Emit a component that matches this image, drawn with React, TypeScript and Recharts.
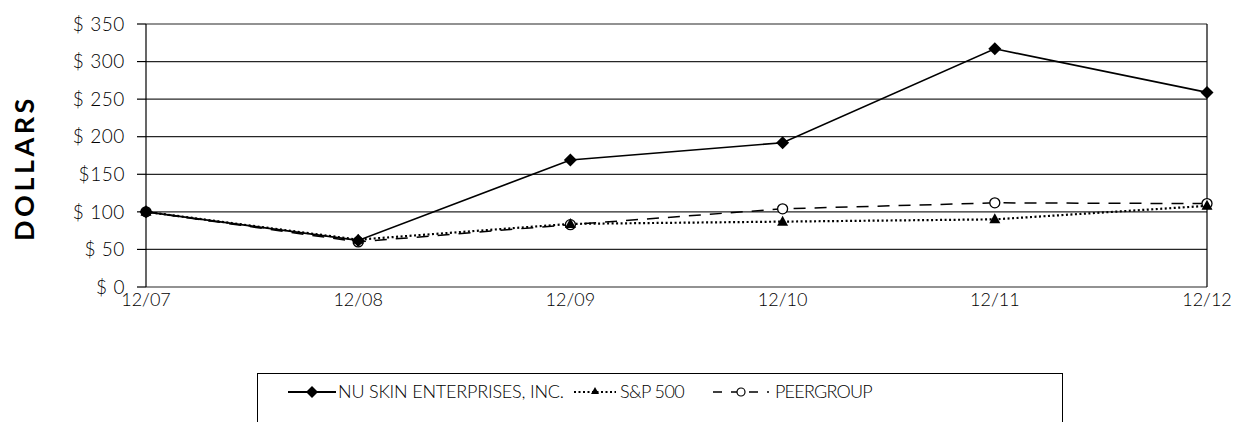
import React from 'react';
import { LineChart, Line, XAxis, YAxis, CartesianGrid, ReferenceLine } from 'recharts';

const YEARS = ['12/07', '12/08', '12/09', '12/10', '12/11', '12/12'];
const NU_SKIN = [100, 62, 169, 192, 317, 259];
const SP500 = [100, 63, 84, 87, 90, 108];
const PEER = [100, 60, 83, 104, 112, 111];
const Y_TICKS = [0, 50, 100, 150, 200, 250, 300, 350];
const Y_LABELS: Record<number, string> = {
  0: '$ 0', 50: '$ 50', 100: '$ 100', 150: '$150', 200: '$ 200', 250: '$ 250', 300: '$ 300', 350: '$ 350',
};
const SERIES_NAMES = ['NU SKIN ENTERPRISES, INC.', 'S&P 500', 'PEERGROUP'];

const FONT = 'Lato, "Open Sans", sans-serif';

const data = YEARS.map((y, i) => ({ year: y, nu: NU_SKIN[i], sp: SP500[i], peer: PEER[i] }));

const Diamond = (props: any) => {
  const { cx, cy } = props;
  if (cx == null || cy == null) return null;
  const r = 6.5;
  return <polygon points={`${cx},${cy - r} ${cx + r},${cy} ${cx},${cy + r} ${cx - r},${cy}`} fill="#000" />;
};

const Triangle = (props: any) => {
  const { cx, cy } = props;
  if (cx == null || cy == null) return null;
  return <polygon points={`${cx},${cy - 6} ${cx + 5.5},${cy + 4} ${cx - 5.5},${cy + 4}`} fill="#000" />;
};

const Circle = (props: any) => {
  const { cx, cy } = props;
  if (cx == null || cy == null) return null;
  return <circle cx={cx} cy={cy} r={5} fill="#fff" stroke="#000" strokeWidth={1.3} />;
};

// legend look: icon left, icon width, text left (relative to box)
const LEGEND_STYLE = [
  { dash: undefined, width: 2, marker: 'diamond', iconX: 30, iconW: 48, textX: 80, spacing: -0.2 },
  { dash: '2 2.5', width: 2, marker: 'triangle', iconX: 316, iconW: 42, textX: 362, spacing: -0.6 },
  { dash: '9 9', width: 1.5, marker: 'circle', iconX: 455, iconW: 56, textX: 517, spacing: -0.8 },
];

function LegendIcon({ dash, width, marker, iconW }: any) {
  const c = iconW / 2;
  return (
    <svg width={iconW} height={16} style={{ display: 'block' }}>
      <line x1={0} y1={8} x2={iconW} y2={8} stroke="#000" strokeWidth={width} strokeDasharray={dash} />
      {marker === 'diamond' && <polygon points={`${c},2 ${c + 6},8 ${c},14 ${c - 6},8`} fill="#000" />}
      {marker === 'triangle' && <polygon points={`${c},3 ${c + 4},10 ${c - 4},10`} fill="#000" />}
      {marker === 'circle' && <circle cx={c} cy={8} r={4} fill="#fff" stroke="#000" strokeWidth={1.2} />}
    </svg>
  );
}

export default function App() {
  return (
    <div style={{ position: 'absolute', left: 0, top: 0, width: 1234, height: 422, background: '#fff', overflow: 'hidden' }}>
      <div
        style={{
          position: 'absolute', left: 23, top: 168, transform: 'translate(-50%, -50%) rotate(-90deg)',
          fontFamily: FONT, fontWeight: 700, fontSize: 27, letterSpacing: 3.5, whiteSpace: 'nowrap',
        }}
      >
        DOLLARS
      </div>
      <LineChart width={1234} height={422} data={data} margin={{ top: 24, right: 27, left: 0, bottom: 95 }}>
        <CartesianGrid vertical={false} stroke="#000" strokeWidth={1.2} strokeOpacity={0.85} />
        <XAxis
          dataKey="year"
          axisLine={false}
          tickLine={false}
          tickMargin={0}
          interval={0}
          tick={{ fill: '#000', fontSize: 18, fontFamily: FONT, fontWeight: 300 }}
          height={40}
        />
        <YAxis
          width={146}
          domain={[0, 350]}
          ticks={Y_TICKS}
          tickFormatter={(v: number) => Y_LABELS[v]}
          axisLine={{ stroke: '#000', strokeWidth: 1.2 }}
          tickLine={{ stroke: '#000', strokeWidth: 1.2 }}
          tickSize={9}
          tickMargin={12}
          tick={{ fill: '#000', fontSize: 19, fontFamily: FONT, fontWeight: 300, letterSpacing: 0.6 }}
        />
        <ReferenceLine x={YEARS[YEARS.length - 1]} stroke="#000" strokeWidth={1.2} />
        <Line dataKey="peer" stroke="#000" strokeWidth={1.5} strokeDasharray="12 9" dot={<Circle />} isAnimationActive={false} />
        <Line dataKey="sp" stroke="#000" strokeWidth={2.2} strokeDasharray="2 2.5" dot={<Triangle />} isAnimationActive={false} />
        <Line dataKey="nu" stroke="#000" strokeWidth={1.6} dot={<Diamond />} isAnimationActive={false} />
      </LineChart>
      <div
        style={{
          position: 'absolute', left: 257, top: 373, width: 806, height: 60, border: '1.5px solid #000',
          boxSizing: 'border-box', fontFamily: FONT, fontWeight: 300, fontSize: 18, color: '#000',
        }}
      >
        {SERIES_NAMES.map((name, i) => {
          const s = LEGEND_STYLE[i];
          return (
            <React.Fragment key={name}>
              <div style={{ position: 'absolute', left: s.iconX, top: 10 }}>
                <LegendIcon {...s} />
              </div>
              <span style={{ position: 'absolute', left: s.textX, top: 6, letterSpacing: s.spacing, whiteSpace: 'nowrap' }}>
                {name}
              </span>
            </React.Fragment>
          );
        })}
      </div>
    </div>
  );
}
